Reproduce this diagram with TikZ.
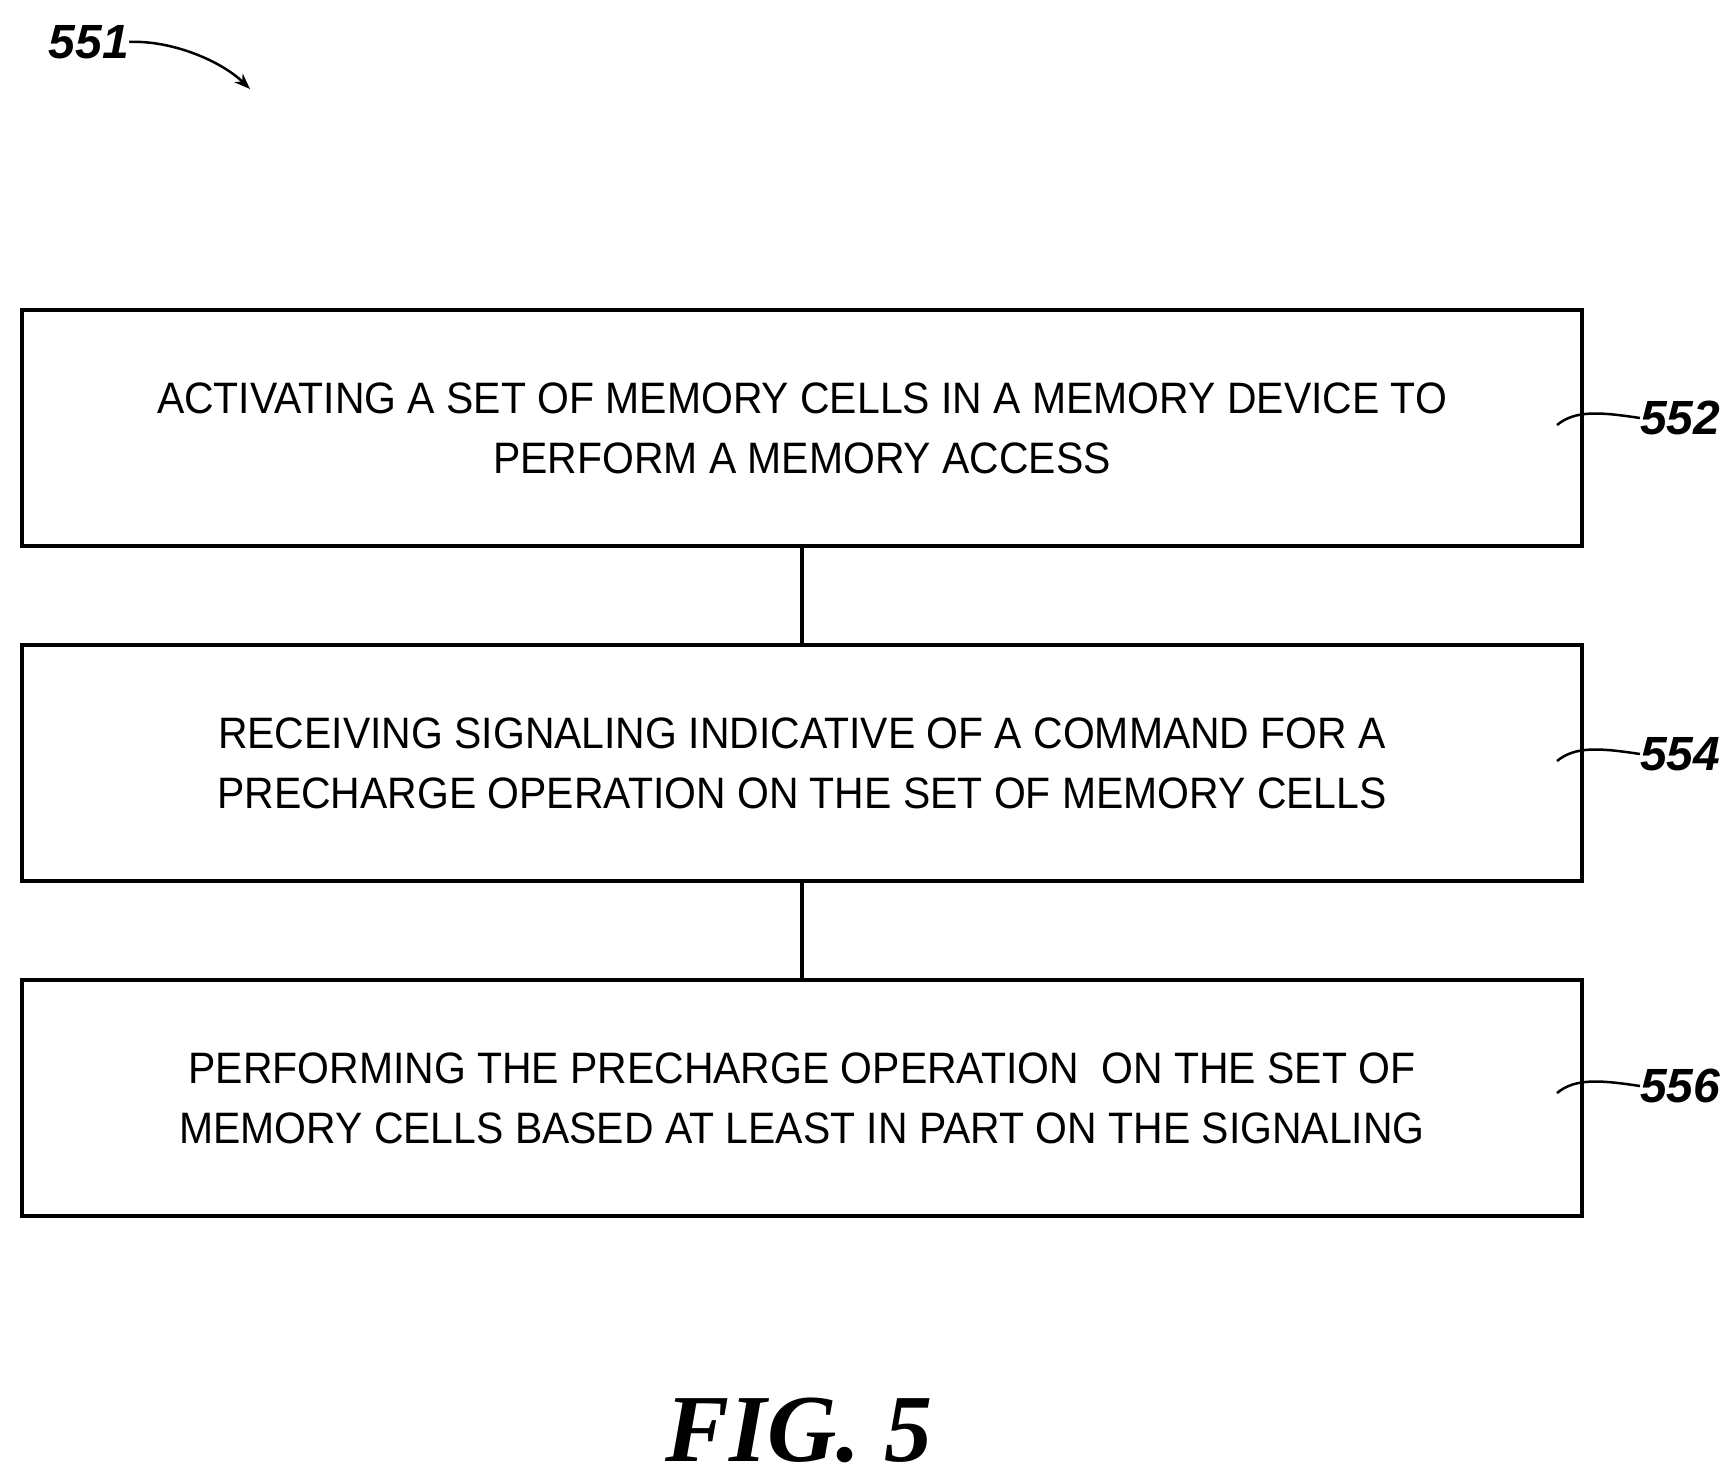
\documentclass[tikz,border=0pt]{standalone}
\usetikzlibrary{arrows.meta}
\usepackage{fontspec}
\setmainfont{Liberation Sans}
\newfontfamily\narrowfont[FakeStretch=0.93]{Liberation Sans}
\newfontfamily\figfont{Liberation Serif}
\begin{document}
\begin{tikzpicture}[x=1pt,y=-1pt,
  box/.style={draw,line width=3.5pt,minimum width=1560pt,minimum height=236pt,inner sep=0pt,align=center,font=\narrowfont\fontsize{44}{60}\selectfont},
  lbl/.style={font=\fontsize{48}{48}\selectfont\bfseries\itshape,anchor=west,inner sep=0pt},
  lead/.style={line width=2.5pt}]
\useasboundingbox (0,0) rectangle (1732,1483);
\node[box] (b1) at (802,428) {ACTIVATING A SET OF MEMORY CELLS IN A MEMORY DEVICE TO\\PERFORM A MEMORY ACCESS};
\node[box] (b2) at (802,763) {RECEIVING SIGNALING INDICATIVE OF A COMMAND FOR A\\PRECHARGE OPERATION ON THE SET OF MEMORY CELLS};
\node[box] (b3) at (802,1098) {PERFORMING THE PRECHARGE OPERATION\ \ ON THE SET OF\\MEMORY CELLS BASED AT LEAST IN PART ON THE SIGNALING};
\draw[line width=3.5pt] (b1.south) -- (b2.north);
\draw[line width=3.5pt] (b2.south) -- (b3.north);
\node[lbl] (l1) at (1640,418) {552};
\node[lbl] (l2) at (1640,754) {554};
\node[lbl] (l3) at (1640,1086) {556};
\foreach \l/\y in {l1/418,l2/754,l3/1086}
  \draw[lead] (1557,\y+7) .. controls (1575,\y-8) and (1600,\y-6) .. (\l.west);
\node[lbl,anchor=center] (l0) at (89,42) {551};
\coordinate (a0) at (250,89);
\draw[lead,-{Stealth[length=16pt,width=12pt]}] (l0.east) .. controls (170,40) and (220,60) .. (a0);
\node[font=\fontsize{96}{96}\selectfont\figfont\bfseries\itshape] (fig) at (799,1430) {FIG. 5};
\end{tikzpicture}
\end{document}
